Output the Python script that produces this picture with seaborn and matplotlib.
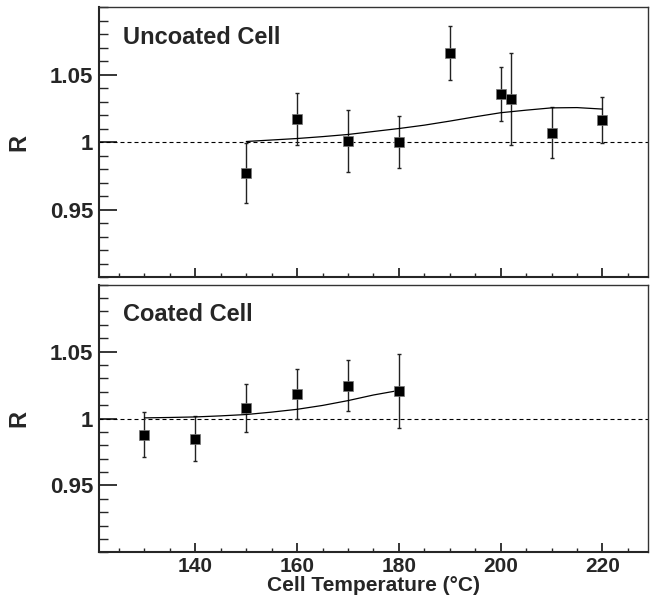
import numpy as np
import pandas as pd
import seaborn as sns
import matplotlib.pyplot as plt
from matplotlib.ticker import MultipleLocator, FixedLocator

# datos
temp_uncoated = [150, 160, 170, 180, 190, 200, 202, 210, 220]
r_uncoated = [0.977, 1.017, 1.0005, 1.000, 1.066, 1.0355, 1.032, 1.007, 1.016]
err_uncoated = [0.022, 0.019, 0.023, 0.019, 0.020, 0.020, 0.034, 0.019, 0.017]

temp_coated = [130, 140, 150, 160, 170, 180]
r_coated = [0.988, 0.985, 1.008, 1.018, 1.0245, 1.0205]
err_coated = [0.0166, 0.017, 0.018, 0.0187, 0.019, 0.0274]

# curvas de ajuste (muestreadas cada 5 grados)
fit_x_uncoated = [150, 155, 160, 165, 170, 175, 180, 185, 190, 195, 200, 205, 210, 215, 220]
fit_y_uncoated = [1.0004, 1.0015, 1.0026, 1.004, 1.0056, 1.0078, 1.010, 1.0125, 1.0155,
                  1.0187, 1.0217, 1.0236, 1.0253, 1.0255, 1.0244]
fit_x_coated = [130, 135, 140, 145, 150, 155, 160, 165, 170, 175, 180]
fit_y_coated = [1.0005, 1.0008, 1.0012, 1.002, 1.003, 1.0048, 1.0069, 1.0098, 1.0134,
                1.0176, 1.021]

panel_labels = ["Uncoated Cell", "Coated Cell"]
y_ticks = [0.95, 1.0, 1.05]
y_tick_labels = ["0.95", "1", "1.05"]
x_ticks = [140, 160, 180, 200, 220]

sns.set_style("ticks")
plt.rcParams['font.family'] = ['Liberation Sans', 'DejaVu Sans']
plt.rcParams['font.weight'] = 'bold'

fig = plt.figure(figsize=(6.51, 6.05), dpi=100)
ax_top = fig.add_axes([0.1516, 0.5421, 0.8442, 0.4463])
ax_bot = fig.add_axes([0.1516, 0.087, 0.8442, 0.4424])

paneles = [
    (ax_top, temp_uncoated, r_uncoated, err_uncoated, fit_x_uncoated, fit_y_uncoated, panel_labels[0]),
    (ax_bot, temp_coated, r_coated, err_coated, fit_x_coated, fit_y_coated, panel_labels[1]),
]

for ax, tx, ry, er, fx, fy, etiqueta in paneles:
    df = pd.DataFrame({"T": tx, "R": ry})
    df_fit = pd.DataFrame({"T": fx, "R": fy})

    ax.axhline(1.0, color="black", lw=0.8, ls=(0, (3.6, 2.7)), zorder=1)
    ax.errorbar(tx, ry, yerr=er, fmt="none", ecolor="#222222", elinewidth=1.0,
                capsize=1.6, capthick=1.0, zorder=2)
    sns.lineplot(data=df_fit, x="T", y="R", ax=ax, color="black", lw=0.9, zorder=3)
    sns.scatterplot(data=df, x="T", y="R", ax=ax, marker="s", s=46, color="black",
                    edgecolor="#777777", linewidth=0.5, zorder=4)

    ax.set_xlim(121, 229)
    ax.set_ylim(0.9, 1.1)
    ax.yaxis.set_major_locator(FixedLocator(y_ticks))
    ax.set_yticklabels(y_tick_labels)
    ax.yaxis.set_minor_locator(MultipleLocator(0.01))
    ax.xaxis.set_major_locator(FixedLocator(x_ticks))
    ax.xaxis.set_minor_locator(MultipleLocator(5))

    ax.tick_params(axis="y", which="major", direction="in", length=13, width=1.3,
                   labelsize=16, pad=4, right=False)
    ax.tick_params(axis="y", which="minor", direction="in", length=6.5, width=1.0, right=False)
    ax.tick_params(axis="x", which="major", direction="in", length=6.5, width=1.3,
                   labelsize=15, pad=3, top=False)
    ax.tick_params(axis="x", which="minor", direction="in", length=3, width=1.0, top=False)
    for lbl in ax.get_xticklabels() + ax.get_yticklabels():
        lbl.set_fontweight("bold")

    for lado in ["left", "bottom"]:
        ax.spines[lado].set_linewidth(1.5)
    for lado in ["top", "right"]:
        ax.spines[lado].set_linewidth(1.0)
        ax.spines[lado].set_color("#333333")

    ax.set_ylabel("R", fontsize=17, fontweight="bold")
    ax.set_xlabel("")
    ax.text(0.044, 0.863, etiqueta, transform=ax.transAxes, fontsize=17,
            fontweight="bold", ha="left", va="baseline")

ax_top.tick_params(axis="x", labelbottom=False)
ax_bot.set_xlabel("Cell Temperature (°C)", fontsize=15, fontweight="bold", labelpad=0.5)
ax_top.yaxis.set_label_coords(-0.124, 0.5)
ax_bot.yaxis.set_label_coords(-0.124, 0.5)

plt.savefig("out.png", dpi=100)
